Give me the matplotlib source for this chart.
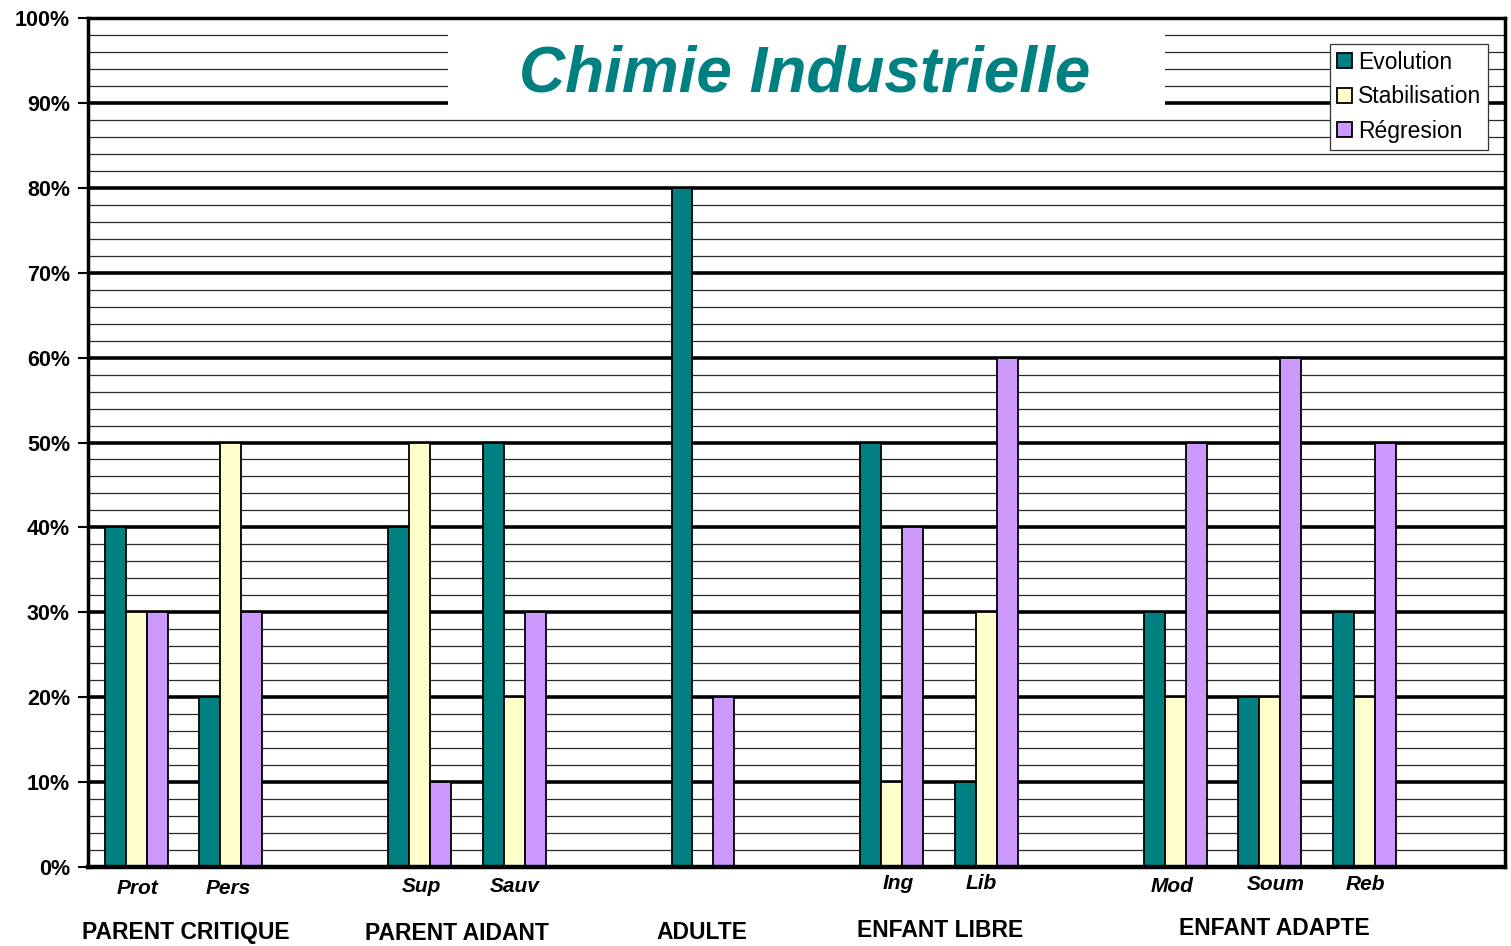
import numpy as np
import matplotlib
matplotlib.use("Agg")
import matplotlib.pyplot as plt
from matplotlib.patches import Rectangle
import matplotlib.transforms as mtransforms

plt.rcParams['font.family'] = ['Liberation Sans', 'DejaVu Sans']

# ---- data ----
sub_labels = ["Prot", "Pers", "", "Sup", "Sauv", "", "", "", "Ing", "Lib", "", "Mod", "Soum", "Reb", ""]
evolution     = [40, 20, np.nan, 40, 50, np.nan, 80, np.nan, 50, 10, np.nan, 30, 20, 30, np.nan]
stabilisation = [30, 50, np.nan, 50, 20, np.nan, 0,  np.nan, 10, 30, np.nan, 20, 20, 20, np.nan]
regresion     = [30, 30, np.nan, 10, 30, np.nan, 20, np.nan, 40, 60, np.nan, 50, 60, 50, np.nan]
series_names = ["Evolution", "Stabilisation", "Régresion"]
group_names = ["PARENT CRITIQUE", "PARENT AIDANT", "ADULTE", "ENFANT LIBRE", "ENFANT ADAPTE"]
group_members = [[0, 1], [3, 4], [6], [8, 9], [11, 12, 13]]
title = "Chimie Industrielle"
yticks = list(range(0, 101, 10))

# ---- layout tweaks (label nudges, in slot units / pixels) ----
sub_dx = {"Prot": 0.02, "Pers": -0.02, "Sup": 0.03, "Sauv": 0.02, "Ing": 0.08,
          "Lib": -0.04, "Mod": -0.02, "Soum": 0.07, "Reb": 0.02}
sub_y = {"Prot": 888, "Pers": 888, "Sup": 886, "Sauv": 886, "Ing": 883,
         "Lib": 883, "Mod": 886, "Soum": 884, "Reb": 884}
grp_dx = [0.04, -0.09, 0.0, 0.02, 0.06]
grp_y = [932, 933, 932, 930, 928]

colors = ["#008080", "#FFFFCC", "#CC99FF"]

fig = plt.figure(figsize=(15.11, 9.46), dpi=100)
ax = fig.add_axes([88/1511, 1-867/946, (1505-88)/1511, (867-18)/946])

n = len(sub_labels)
x = np.arange(n) + 0.5
w = 0.222
for k, (vals, c, name) in enumerate(zip([evolution, stabilisation, regresion], colors, series_names)):
    ax.bar(x + (k-1)*w + 0.01, vals, width=w, color=c, edgecolor="black", linewidth=1.3,
           label=name, zorder=3)

ax.set_xlim(0, n)
ax.set_ylim(0, 100)

# grid lines
for v in range(2, 100, 2):
    if v % 10 == 0:
        ax.axhline(v, color="black", linewidth=2.6, zorder=1)
    else:
        ax.axhline(v, color="#2a2a2a", linewidth=0.9, zorder=1)

# title box
ax.add_patch(Rectangle((3.81, 88.9), 11.40-3.81, 11.0, facecolor="white", edgecolor="none", zorder=2))
ax.text(7.59, 93.3, title, ha="center", va="center", fontsize=46, fontweight="bold",
        fontstyle="italic", color="#008080", zorder=4)

ax.set_yticks(yticks)
ax.set_yticklabels([f"{v}%" for v in yticks], fontsize=15.5, fontweight="bold")
ax.tick_params(axis="y", length=7, width=1.5, pad=6)
ax.set_xticks([])

for s in ax.spines.values():
    s.set_linewidth(2.5)
    s.set_zorder(5)
ax.spines["bottom"].set_linewidth(3.2)

trans = mtransforms.blended_transform_factory(ax.transData, fig.transFigure)
for xi, lab in zip(x, sub_labels):
    if lab:
        ax.text(xi + sub_dx[lab], 1-sub_y[lab]/946, lab, transform=trans, ha="center", va="center",
                fontsize=15, fontweight="bold", fontstyle="italic")

for name, members, dx, gy in zip(group_names, group_members, grp_dx, grp_y):
    gx = np.mean([x[m] for m in members]) + dx
    ax.text(gx, 1-gy/946, name, transform=trans, ha="center", va="center",
            fontsize=16.5, fontweight="bold")

leg = ax.legend(loc="upper right", bbox_to_anchor=(1488/1511, 1-44/946), bbox_transform=fig.transFigure,
                borderaxespad=0, fancybox=False, shadow=False, framealpha=1, edgecolor="#333333",
                fontsize=16.5, handlelength=0.65, handleheight=0.65, handletextpad=0.25,
                labelspacing=0.5, borderpad=0.3)
leg.get_frame().set_linewidth(0.9)
leg.set_zorder(6)

fig.savefig("out.png", dpi=100)
